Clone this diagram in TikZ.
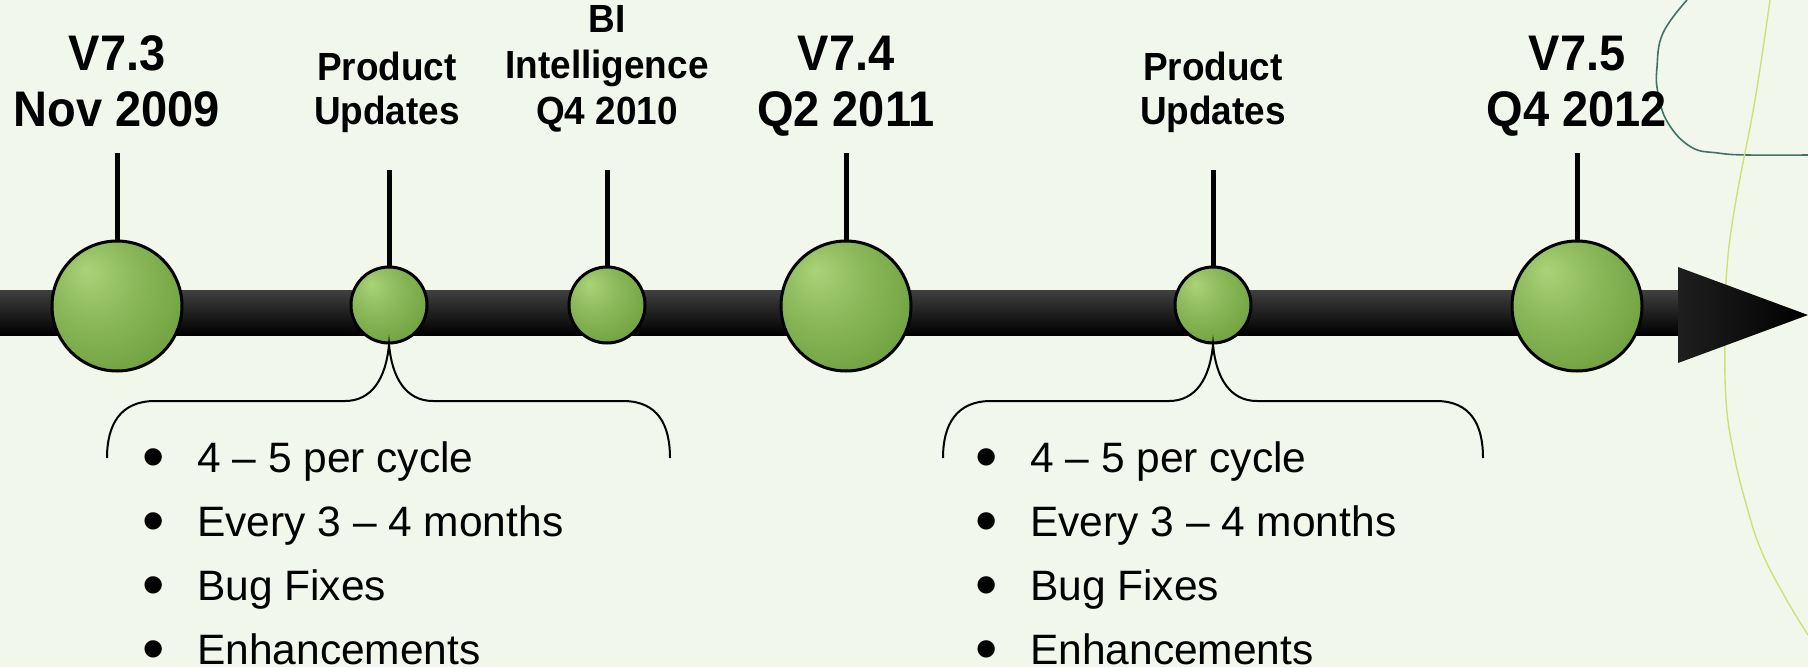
\documentclass[tikz,border=0pt]{standalone}
\usepackage{fontspec}
\setmainfont{Liberation Sans}[FakeStretch=0.94]
\newfontfamily\listfont{Liberation Sans}
\usetikzlibrary{calc}
\definecolor{bg}{HTML}{F1F7EB}
\definecolor{glight}{HTML}{A9D378}
\definecolor{gmid}{HTML}{79A948}
\definecolor{gdark}{HTML}{68973B}
\definecolor{teald}{HTML}{3E7468}
\definecolor{yell}{HTML}{CFE07A}
\pgfdeclareradialshading{circshade}{\pgfpoint{-12bp}{14bp}}{color(0bp)=(glight); color(14bp)=(gmid!55!glight); color(28bp)=(gmid); color(40bp)=(gdark); color(60bp)=(gdark)}
\newcommand\bulletbox{\makebox[55pt][l]{\raisebox{-6pt}{\scalebox{1.5}{•}}}}
\tikzset{
  bigdot/.style={circle, draw=black, line width=3pt, minimum size=130pt, inner sep=0pt, shading=circshade},
  smalldot/.style={circle, draw=black, line width=3pt, minimum size=76pt, inner sep=0pt, shading=circshade},
  stem/.style={line width=5pt},
  bigtxt/.style={font=\fontsize{50}{56}\selectfont\bfseries, align=center, inner sep=0pt, text depth=0pt, anchor=south},
  smalltxt/.style={font=\fontsize{39.3}{44}\selectfont\bfseries, align=center, inner sep=0pt, text depth=0pt, anchor=south},
  bitxt/.style={font=\fontsize{39.3}{46}\selectfont\bfseries, align=center, inner sep=0pt, text depth=0pt, anchor=south},
  listtxt/.style={font=\listfont\fontsize{42.5}{64}\selectfont, align=left, inner sep=0pt, text depth=0pt, anchor=south west},
  bracepath/.style={line width=2pt},
}
\begin{document}
\begin{tikzpicture}[x=1pt,y=-1pt]
\fill[bg] (0,0) rectangle (1808,667);
\useasboundingbox (0,0) rectangle (1808,667);
% background decoration
\draw[teald, line width=1.6pt] plot[smooth, tension=0.7] coordinates {(1687,0) (1663,33) (1657,67) (1658,93) (1668,123) (1691,147) (1718,153) (1748,155) (1808,155)};
\draw[yell, line width=1.4pt] plot[smooth, tension=0.7] coordinates {(1770,0) (1755,100) (1736,200) (1727,267) (1725,333) (1726,400) (1733,450) (1745,500) (1761,550) (1785,597) (1808,635)};
% bar and head
\shade[top color=black!75, middle color=black, bottom color=black] (0,290) rectangle (1692,335);
\shade[left color=black!88, right color=black] (1678,267) -- (1808,315) -- (1678,363) -- cycle;
% circles
\node[bigdot] (c73) at (117,306) {};
\node[smalldot] (cpu1) at (389,305) {};
\node[smalldot] (cbi) at (607,305) {};
\node[bigdot] (c74) at (846,306) {};
\node[smalldot] (cpu2) at (1213,305) {};
\node[bigdot] (c75) at (1577,306) {};
% stems
\coordinate (s73) at (117,153);
\coordinate (spu1) at (389,170);
\coordinate (sbi) at (607,170);
\coordinate (s74) at (846,153);
\coordinate (spu2) at (1213,170);
\coordinate (s75) at (1577,153);
\draw[stem] (s73) -- (c73.north);
\draw[stem] (spu1) -- (cpu1.north);
\draw[stem] (sbi) -- (cbi.north);
\draw[stem] (s74) -- (c74.north);
\draw[stem] (spu2) -- (cpu2.north);
\draw[stem] (s75) -- (c75.north);
% labels
\node[bigtxt] (l73) at (117,127) {V7.3\\Nov 2009};
\node[smalltxt] (lpu1) at (387,125) {Product\\Updates};
\node[bitxt] (lbi) at (607,125) {BI\\Intelligence\\Q4 2010};
\node[bigtxt] (l74) at (846,127) {V7.4\\Q2 2011};
\node[smalltxt] (lpu2) at (1213,125) {Product\\Updates};
\node[bigtxt] (l75) at (1577,127) {V7.5\\Q4 2012};
% braces
\coordinate (b1l) at (107,458);
\coordinate (b1r) at (670,458);
\coordinate (b2l) at (943,458);
\coordinate (b2r) at (1483,458);
\draw[bracepath] (b1l) .. controls (107,425) and (120,401) .. (155,401) -- (345,401) .. controls (372,401) and (386,378) .. (cpu1.south) .. controls (392,378) and (406,401) .. (433,401) -- (623,401) .. controls (658,401) and (670,425) .. (b1r);
\draw[bracepath] (b2l) .. controls (943,425) and (956,401) .. (991,401) -- (1169,401) .. controls (1196,401) and (1210,378) .. (cpu2.south) .. controls (1216,378) and (1230,401) .. (1257,401) -- (1436,401) .. controls (1471,401) and (1483,425) .. (b2r);
% lists
\node[listtxt] (list1) at (142,665) {\bulletbox 4 – 5 per cycle\\ \bulletbox Every 3 – 4 months\\ \bulletbox Bug Fixes\\ \bulletbox Enhancements};
\node[listtxt] (list2) at (975,665) {\bulletbox 4 – 5 per cycle\\ \bulletbox Every 3 – 4 months\\ \bulletbox Bug Fixes\\ \bulletbox Enhancements};
\end{tikzpicture}
\end{document}
